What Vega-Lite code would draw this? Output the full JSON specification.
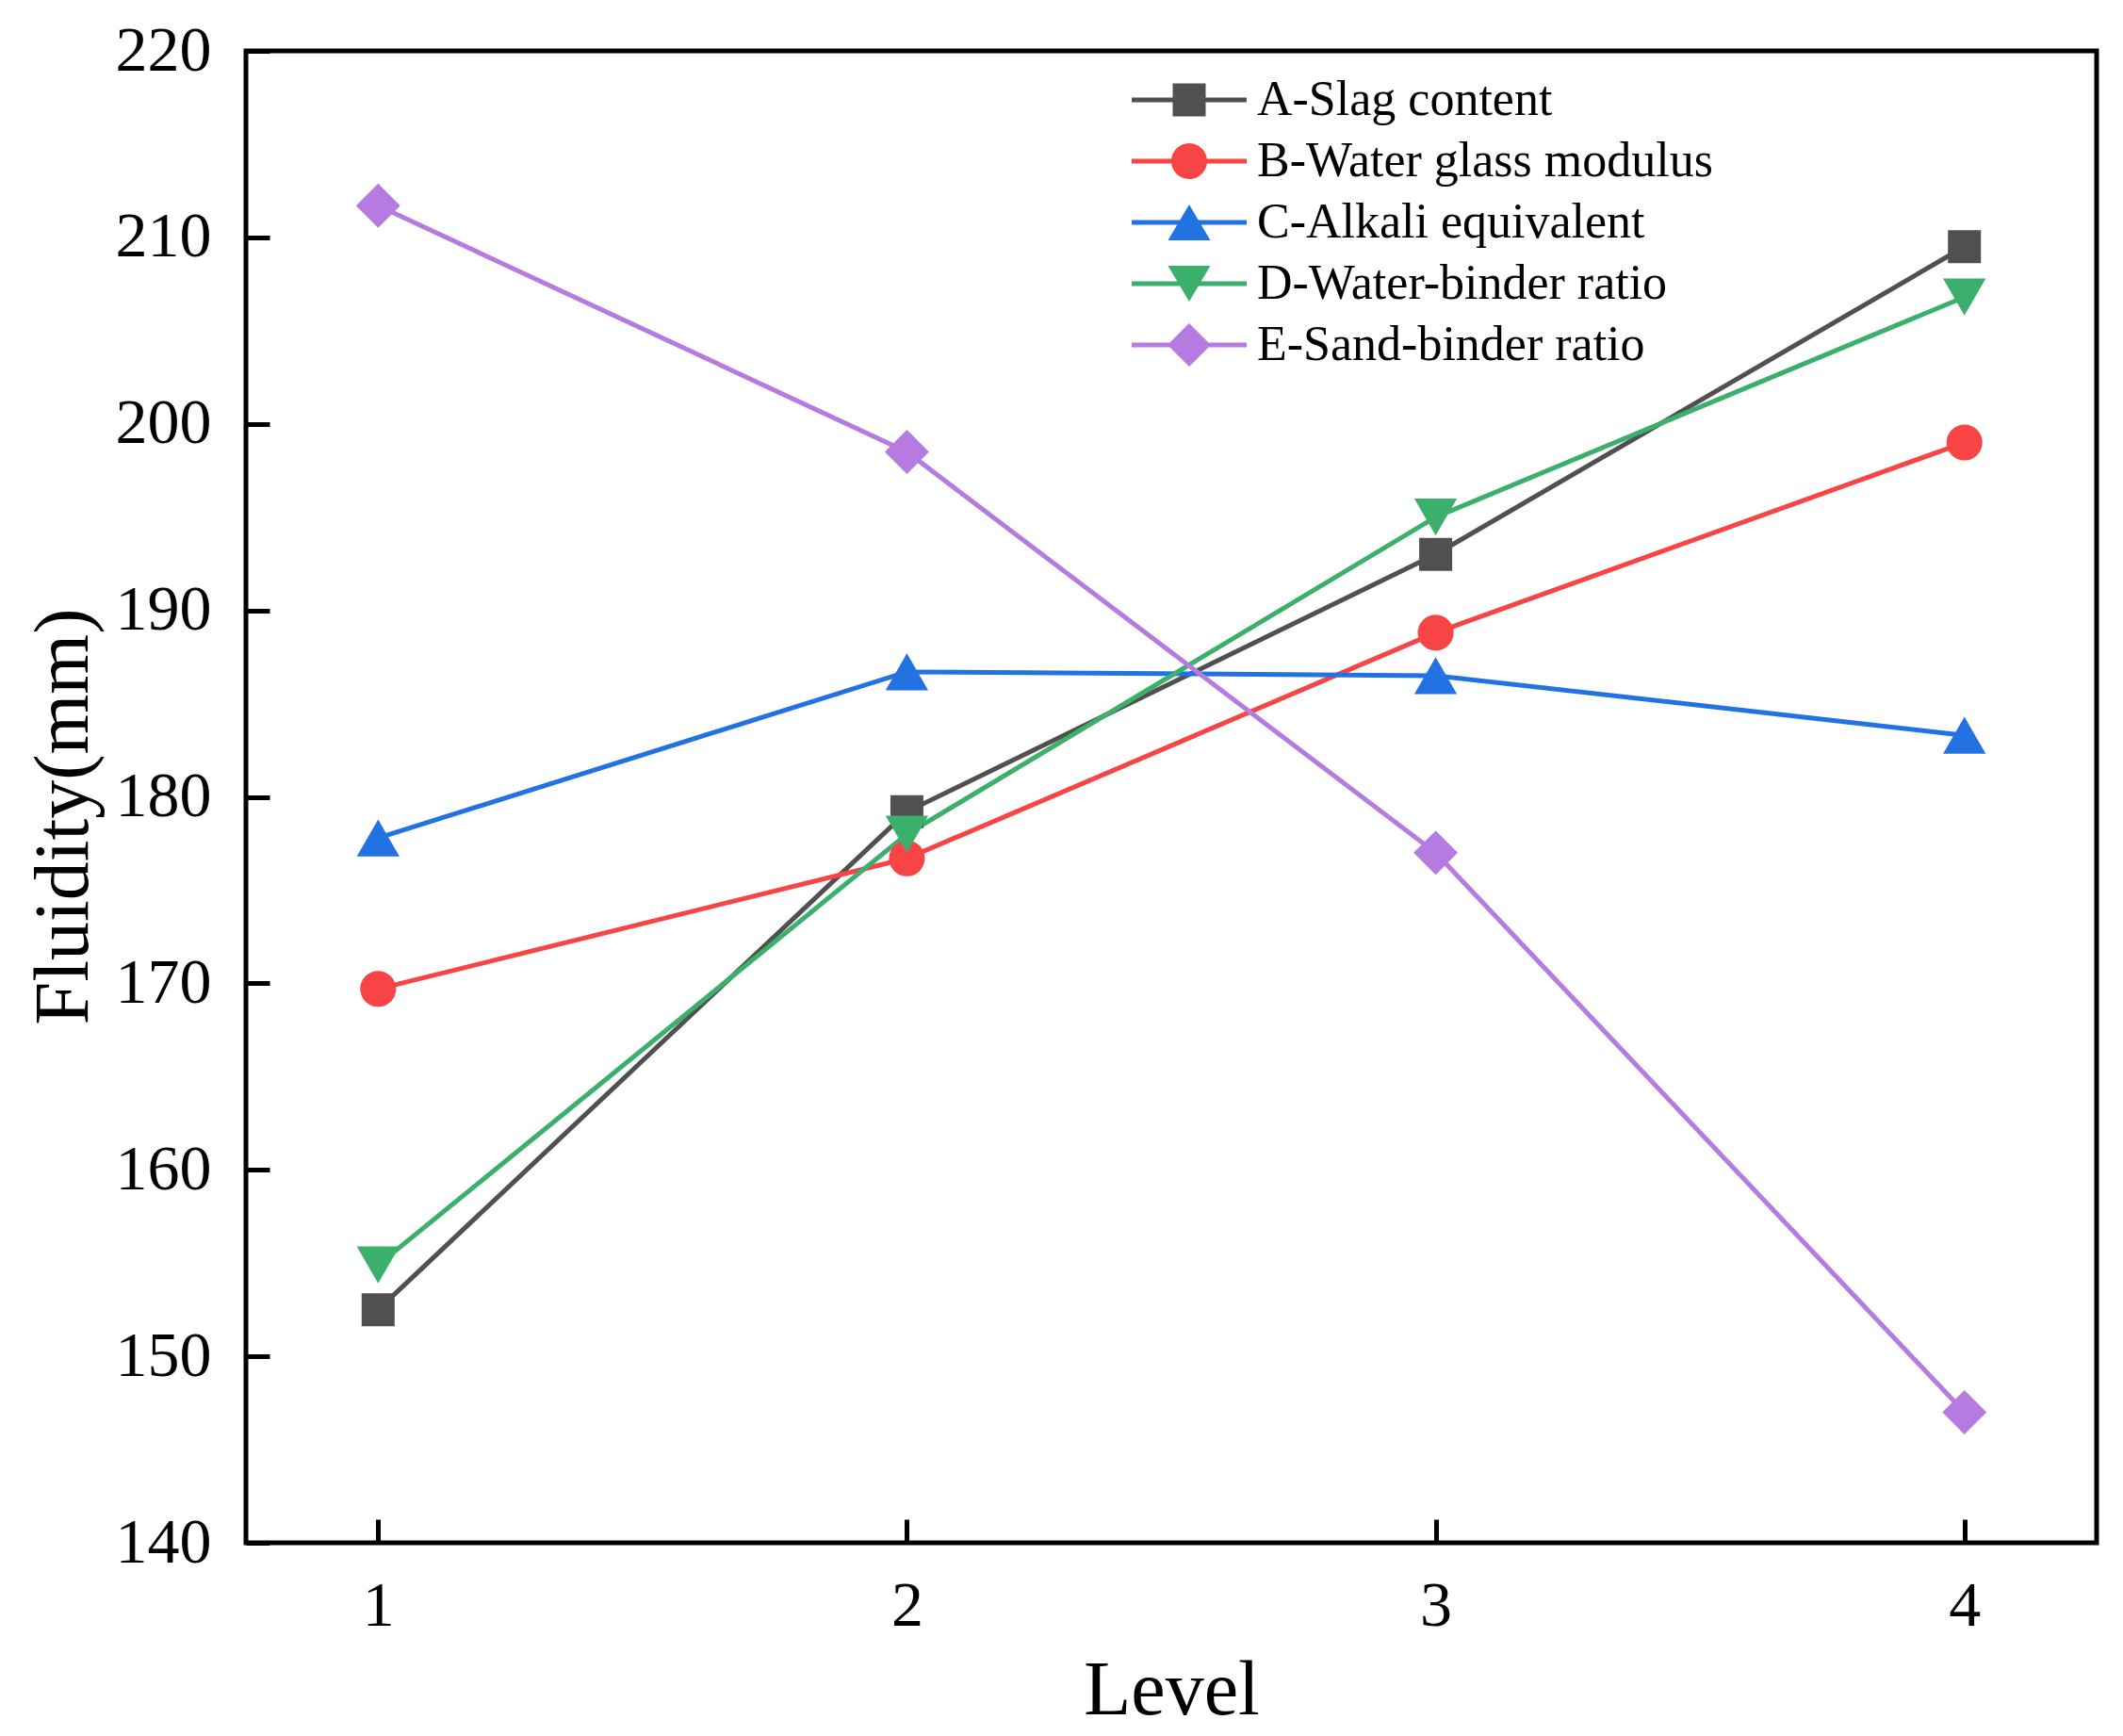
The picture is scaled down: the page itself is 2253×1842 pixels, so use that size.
{
  "$schema": "https://vega.github.io/schema/vega-lite/v6.json",
  "width": 1964,
  "height": 1583,
  "autosize": "none",
  "padding": {"left": 261, "top": 54, "right": 28, "bottom": 205},
  "background": "white",
  "config": {
    "view": {"stroke": "black", "strokeWidth": 5},
    "font": "Liberation Serif"
  },
  "data": {
    "values": [
      {"factor": "A-Slag content", "level": 1, "fluidity": 152.5},
      {"factor": "A-Slag content", "level": 2, "fluidity": 179.2},
      {"factor": "A-Slag content", "level": 3, "fluidity": 193.0},
      {"factor": "A-Slag content", "level": 4, "fluidity": 209.5},
      {"factor": "B-Water glass modulus", "level": 1, "fluidity": 169.7},
      {"factor": "B-Water glass modulus", "level": 2, "fluidity": 176.7},
      {"factor": "B-Water glass modulus", "level": 3, "fluidity": 188.8},
      {"factor": "B-Water glass modulus", "level": 4, "fluidity": 199.0},
      {"factor": "C-Alkali equivalent", "level": 1, "fluidity": 177.8},
      {"factor": "C-Alkali equivalent", "level": 2, "fluidity": 186.7},
      {"factor": "C-Alkali equivalent", "level": 3, "fluidity": 186.5},
      {"factor": "C-Alkali equivalent", "level": 4, "fluidity": 183.3},
      {"factor": "D-Water-binder ratio", "level": 1, "fluidity": 154.9},
      {"factor": "D-Water-binder ratio", "level": 2, "fluidity": 178.0},
      {"factor": "D-Water-binder ratio", "level": 3, "fluidity": 195.0},
      {"factor": "D-Water-binder ratio", "level": 4, "fluidity": 206.8},
      {"factor": "E-Sand-binder ratio", "level": 1, "fluidity": 211.7},
      {"factor": "E-Sand-binder ratio", "level": 2, "fluidity": 198.5},
      {"factor": "E-Sand-binder ratio", "level": 3, "fluidity": 177.0},
      {"factor": "E-Sand-binder ratio", "level": 4, "fluidity": 147.0}
    ]
  },
  "encoding": {
    "x": {
      "field": "level",
      "type": "quantitative",
      "scale": {"domain": [0.75, 4.25], "nice": false, "zero": false},
      "axis": {
        "values": [1, 2, 3, 4],
        "format": "d",
        "title": "Level",
        "titleFont": "Liberation Serif",
        "titleFontSize": 82,
        "titleFontWeight": "normal",
        "titleColor": "black",
        "titleX": 982,
        "titleY": 181,
        "titleAlign": "center",
        "titleBaseline": "alphabetic",
        "labelFont": "Liberation Serif",
        "labelFontSize": 68,
        "labelColor": "black",
        "labelPadding": 58,
        "labelFlush": false,
        "tickSize": -25,
        "tickWidth": 5,
        "tickColor": "black",
        "domain": false,
        "grid": false
      }
    },
    "y": {
      "field": "fluidity",
      "type": "quantitative",
      "scale": {"domain": [140, 220], "nice": false, "zero": false},
      "axis": {
        "values": [140, 150, 160, 170, 180, 190, 200, 210, 220],
        "title": "Fluidity(mm)",
        "titleFont": "Liberation Serif",
        "titleFontSize": 82,
        "titleFontWeight": "normal",
        "titleColor": "black",
        "titleX": -169,
        "titleY": 812,
        "titleAngle": -90,
        "titleAlign": "center",
        "titleBaseline": "alphabetic",
        "labelFont": "Liberation Serif",
        "labelFontSize": 68,
        "labelColor": "black",
        "labelPadding": 62,
        "labelFlush": false,
        "tickSize": -25,
        "tickWidth": 5,
        "tickColor": "black",
        "domain": false,
        "grid": false
      }
    },
    "color": {
      "field": "factor",
      "type": "nominal",
      "scale": {
        "domain": ["A-Slag content", "B-Water glass modulus", "C-Alkali equivalent", "D-Water-binder ratio", "E-Sand-binder ratio"],
        "range": ["#505050", "#F84444", "#2272E4", "#3AB06C", "#B57BE1"]
      },
      "legend": {
        "title": null,
        "orient": "none",
        "legendX": 975,
        "legendY": 26,
        "padding": 0,
        "symbolSize": 1600,
        "labelFont": "Liberation Serif",
        "labelFontSize": 52,
        "labelColor": "black",
        "labelOffset": 46,
        "labelLimit": 900,
        "rowPadding": 13,
        "encode": {
          "symbols": {
            "update": {
              "shape": {"signal": "datum.value === 'A-Slag content' ? 'M-3.05,-0.12H3.05V0.12H-3.05Z M-0.875,-0.875H0.875V0.875H-0.875Z' : datum.value === 'B-Water glass modulus' ? 'M-3.05,-0.12H3.05V0.12H-3.05Z M-0.95,0A0.95,0.95,0,1,1,0.95,0A0.95,0.95,0,1,1,-0.95,0Z' : datum.value === 'C-Alkali equivalent' ? 'M-3.05,-0.12H3.05V0.12H-3.05Z M0,-0.95L1.125,0.95L-1.125,0.95Z' : datum.value === 'D-Water-binder ratio' ? 'M-3.05,-0.12H3.05V0.12H-3.05Z M0,0.95L-1.125,-0.95L1.125,-0.95Z' : 'M-3.05,-0.12H3.05V0.12H-3.05Z M-1.15,0L0,-1.15L1.15,0L0,1.15Z'"},
              "fill": {"signal": "scale('color', datum.value)"},
              "fillOpacity": {"value": 1},
              "strokeWidth": {"value": 0},
              "opacity": {"value": 1}
            }
          }
        }
      }
    }
  },
  "layer": [
    {"mark": {"type": "line", "strokeWidth": 5}},
    {
      "mark": {"type": "point", "filled": true, "opacity": 1},
      "encoding": {
        "shape": {
          "condition": [
            {"test": "datum.factor === 'A-Slag content'", "value": "square"},
            {"test": "datum.factor === 'B-Water glass modulus'", "value": "circle"},
            {"test": "datum.factor === 'C-Alkali equivalent'", "value": "triangle-up"},
            {"test": "datum.factor === 'D-Water-binder ratio'", "value": "triangle-down"}
          ],
          "value": "diamond"
        },
        "size": {
          "condition": [
            {"test": "datum.factor === 'A-Slag content'", "value": 1225},
            {"test": "datum.factor === 'B-Water glass modulus'", "value": 1450},
            {"test": "datum.factor === 'C-Alkali equivalent'", "value": 2050},
            {"test": "datum.factor === 'D-Water-binder ratio'", "value": 2050}
          ],
          "value": 2200
        }
      }
    }
  ]
}
